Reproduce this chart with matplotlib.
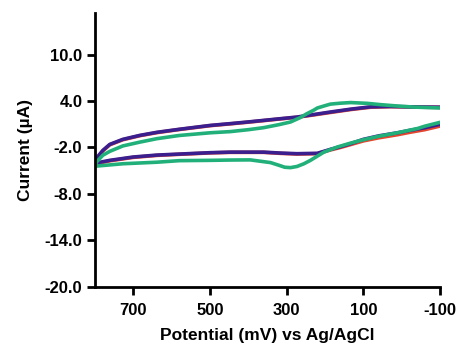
import matplotlib
matplotlib.use("Agg")
import matplotlib.pyplot as plt

plt.rcParams['font.family'] = ['Liberation Sans', 'DejaVu Sans']

# Potential (mV) / Current (uA); upper branch 800 -> -100, lower branch -100 -> 800
blue_up_x = [800, 796, 779, 761, 727, 682, 638, 580, 499, 447, 400, 360, 316, 273, 230, 186, 133, 81, 30, -20, -60, -100]
blue_up_y = [-4.1, -3.4, -2.37, -1.6, -0.95, -0.43, -0.04, 0.35, 0.85, 1.08, 1.3, 1.5, 1.72, 1.93, 2.25, 2.58, 2.95, 3.25, 3.3, 3.25, 3.22, 3.2]
blue_lo_x = [-100, -60, -20, 11, 60, 100, 133, 160, 186, 220, 273, 316, 360, 447, 499, 580, 638, 700, 761, 796, 800]
blue_lo_y = [1.0, 0.55, 0.2, -0.1, -0.5, -0.95, -1.5, -1.9, -2.24, -2.75, -2.8, -2.72, -2.6, -2.6, -2.67, -2.85, -2.98, -3.23, -3.66, -4.0, -4.1]

red_up_x = blue_up_x
red_up_y = [-4.2, -3.5, -2.45, -1.65, -1.0, -0.47, -0.08, 0.32, 0.82, 1.05, 1.27, 1.47, 1.69, 1.9, 2.2, 2.52, 2.9, 3.2, 3.27, 3.23, 3.2, 3.18]
red_lo_x = blue_lo_x
red_lo_y = [0.77, 0.3, -0.05, -0.35, -0.75, -1.15, -1.62, -2.0, -2.32, -2.8, -2.85, -2.76, -2.63, -2.63, -2.7, -2.88, -3.02, -3.28, -3.72, -4.1, -4.2]

green_up_x = [800, 796, 779, 761, 727, 682, 638, 580, 499, 447, 400, 360, 320, 290, 265, 247, 230, 220, 200, 186, 160, 133, 90, 55, 10, -31, -70, -100]
green_up_y = [-4.5, -3.9, -3.0, -2.5, -1.8, -1.3, -0.86, -0.45, -0.1, 0.05, 0.3, 0.56, 0.95, 1.29, 1.85, 2.37, 2.8, 3.1, 3.4, 3.6, 3.72, 3.8, 3.7, 3.53, 3.35, 3.22, 3.15, 3.1]
green_lo_x = [-100, -60, -41, 11, 60, 100, 133, 168, 203, 238, 255, 273, 290, 305, 320, 342, 395, 447, 499, 580, 638, 682, 727, 761, 796, 800]
green_lo_y = [1.25, 0.75, 0.45, -0.1, -0.55, -1.0, -1.43, -1.94, -2.6, -3.66, -4.1, -4.45, -4.6, -4.55, -4.3, -3.95, -3.6, -3.62, -3.66, -3.7, -3.9, -4.0, -4.1, -4.25, -4.4, -4.5]

xticks = [700, 500, 300, 100, -100]
yticks = [10.0, 4.0, -2.0, -8.0, -14.0, -20.0]

fig = plt.figure(figsize=(4.58, 3.44), dpi=100)
ax = fig.add_axes([0.207, 0.166, 0.754, 0.797])

lw = 2.6
for xs, ys, c in [(red_up_x, red_up_y, '#e5462e'), (red_lo_x, red_lo_y, '#e5462e'),
                  (blue_up_x, blue_up_y, '#3b1f8e'), (blue_lo_x, blue_lo_y, '#3b1f8e'),
                  (green_up_x, green_up_y, '#22b07a'), (green_lo_x, green_lo_y, '#22b07a')]:
    ax.plot(xs, ys, color=c, lw=lw, solid_joinstyle='round', solid_capstyle='round')

ax.set_xlim(800, -100)
ax.set_ylim(-20, 15.4)
ax.set_xticks(xticks)
ax.set_xticklabels([f"{v}" for v in xticks])
ax.set_yticks(yticks)
ax.set_yticklabels([f"{v:.1f}" for v in yticks])

for s in ['top', 'right']:
    ax.spines[s].set_visible(False)
for s in ['left', 'bottom']:
    ax.spines[s].set_linewidth(2)
ax.tick_params(axis='both', width=2, length=5.5, direction='out', labelsize=12)
ax.tick_params(axis='x', pad=6)
ax.tick_params(axis='y', pad=3.5)
for lab in ax.get_xticklabels() + ax.get_yticklabels():
    lab.set_fontweight('bold')

ax.set_xlabel('Potential (mV) vs Ag/AgCl', fontsize=12.5, fontweight='bold', labelpad=7)
ax.set_ylabel('Current (µA)', fontsize=12.5, fontweight='bold', labelpad=8)

fig.savefig('out.png', dpi=100)
